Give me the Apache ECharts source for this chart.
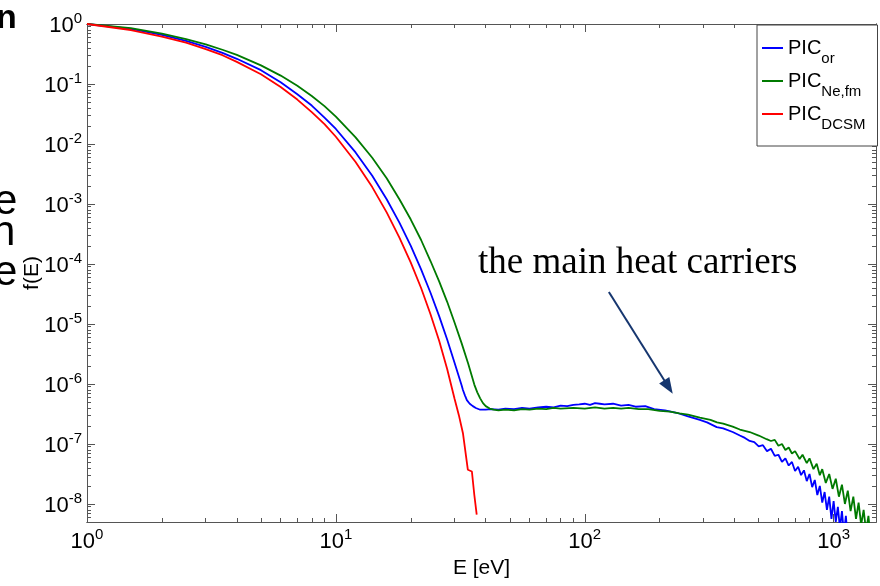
<!DOCTYPE html>
<html><head><meta charset="utf-8">
<script src="https://cdn.jsdelivr.net/npm/echarts@6/dist/echarts.min.js"></script>
<style>html,body{margin:0;padding:0;background:#fff}#c{width:880px;height:586px}</style>
</head><body><div id="c"></div>
<script>
// ---- data (E in eV, f(E)) ----
const seriesNames = ['PIC_or', 'PIC_Ne,fm', 'PIC_DCSM'];
const seriesColors = ['#0000ff', '#007a00', '#ff0000'];

const orE = [1,1.5,2,2.5,3,3.5,4,5,6,7,8,9,10,12,14,16,18,20,22,24,26,28,30,32,32.4,33,33.6,34.5,35.5,36.5,38,
  40,42,45,48,52,56,60,65,70,75,80,85,90,95,100,105,110,115,120,130,140,150,160,175,190,210,234,260,290,310,339,360,393,420,440,460,
  480,500,520,540,560,580,600,620,640,660,680,700,720,740,760,780,800,820,840,860,880,900,920,940,960,980,1000,1020,1040,1060,1080,1100,1120,1140];
const orF = [1,0.832,0.661,0.525,0.417,0.331,0.263,0.170,0.107,0.0676,0.0437,0.0275,0.0178,7.24e-3,2.95e-3,1.20e-3,4.90e-4,2.00e-4,8.13e-5,3.31e-5,1.35e-5,5.50e-6,2.24e-6,9.55e-7,7.94e-7,6.46e-7,5.37e-7,4.68e-7,4.27e-7,3.98e-7,3.72e-7,
  3.72e-7,3.80e-7,3.72e-7,3.89e-7,3.80e-7,3.98e-7,3.89e-7,4.07e-7,4.17e-7,4.07e-7,4.37e-7,4.27e-7,4.47e-7,4.57e-7,4.68e-7,4.47e-7,4.79e-7,4.68e-7,4.57e-7,4.68e-7,4.37e-7,4.47e-7,4.17e-7,4.27e-7,3.80e-7,3.63e-7,3.31e-7,2.88e-7,2.51e-7,2.29e-7,1.91e-7,1.82e-7,1.58e-7,1.38e-7,1.26e-7,1.12e-7,
  1.07e-7,9.12e-8,9.55e-8,7.59e-8,8.32e-8,6.31e-8,6.61e-8,5.01e-8,5.75e-8,4.37e-8,5.01e-8,3.55e-8,4.17e-8,3.02e-8,3.63e-8,2.40e-8,3.16e-8,1.91e-8,2.51e-8,1.41e-8,2.00e-8,1.05e-8,1.58e-8,7.94e-9,1.32e-8,5.62e-9,1.12e-8,5.01e-9,8.91e-9,3.98e-9,7.59e-9,3.16e-9,6.31e-9,2.51e-9];

const neE = [1,1.5,2,2.5,3,3.5,4,5,6,7,8,9,10,12,14,16,18,20,22,24,26,28,30,32,34,36,37,38,39,40,41.5,43,45,
  48,52,56,60,65,70,75,80,90,100,110,120,130,140,150,165,180,200,220,240,260,290,320,340,360,393,420,460,500,538,
  560,580,600,620,640,660,680,700,730,750,780,800,830,855,880,900,930,960,990,1020,1050,1080,1110,1140,1170,1200,1230,1260,1290,1320,1350,1380,1410];
const neF = [1,0.851,0.692,0.562,0.457,0.372,0.305,0.204,0.138,0.0933,0.0631,0.0427,0.0285,0.0129,5.89e-3,2.69e-3,1.20e-3,5.50e-4,2.51e-4,1.12e-4,5.13e-5,2.34e-5,1.05e-5,4.79e-6,2.19e-6,9.77e-7,7.24e-7,5.75e-7,4.79e-7,4.27e-7,3.89e-7,3.72e-7,3.63e-7,
  3.72e-7,3.63e-7,3.80e-7,3.72e-7,3.89e-7,3.80e-7,3.98e-7,3.89e-7,3.98e-7,3.89e-7,4.07e-7,3.89e-7,3.98e-7,3.89e-7,3.98e-7,3.80e-7,3.80e-7,3.55e-7,3.47e-7,3.24e-7,3.09e-7,2.75e-7,2.51e-7,2.29e-7,2.19e-7,1.95e-7,1.74e-7,1.58e-7,1.38e-7,1.20e-7,
  1.12e-7,1.17e-7,9.33e-8,1.00e-7,7.94e-8,8.71e-8,6.92e-8,7.59e-8,5.62e-8,6.61e-8,4.79e-8,5.75e-8,3.80e-8,4.68e-8,3.02e-8,3.80e-8,2.24e-8,3.16e-8,1.78e-8,2.63e-8,1.32e-8,2.09e-8,1.00e-8,1.66e-8,7.59e-9,1.32e-8,5.62e-9,1.05e-8,4.47e-9,7.94e-9,3.55e-9,6.31e-9,2.51e-9];

const dcE = [1,1.5,2,2.5,3,3.5,4,5,6,7,8,9,10,12,14,16,18,20,22,24,26,28,30,31.2,32.4,33.9,35.2,36,36.8];
const dcF = [1,0.794,0.617,0.490,0.380,0.302,0.234,0.145,0.0891,0.0550,0.0339,0.0214,0.0132,5.01e-3,1.91e-3,7.24e-4,2.75e-4,1.05e-4,3.98e-5,1.45e-5,5.25e-6,1.78e-6,5.62e-7,3.02e-7,1.51e-7,3.72e-8,3.47e-8,1.41e-8,6.61e-9];

// ---- axes ----
const xRange = [1, 1480];
const yRange = [5e-9, 1];
const xMajor = [1, 10, 100, 1000];
const yMajor = [1e-8, 1e-7, 1e-6, 1e-5, 1e-4, 1e-3, 1e-2, 1e-1, 1];
const minorMult = [2, 3, 4, 5, 6, 7, 8, 9];
const xMinor = [], yMinor = [];
[1, 10, 100, 1000].forEach(d => minorMult.forEach(k => { if (k * d <= xRange[1]) xMinor.push(k * d); }));
[1e-9, 1e-8, 1e-7, 1e-6, 1e-5, 1e-4, 1e-3, 1e-2, 1e-1].forEach(d => minorMult.forEach(k => { if (k * d >= yRange[0]) yMinor.push(k * d); }));

const axisCol = '#555';
const labelFont = 'Liberation Sans';
const expRich = {
  b: { fontFamily: labelFont, fontSize: 22, color: '#000', lineHeight: 26, verticalAlign: 'bottom' },
  e: { fontFamily: labelFont, fontSize: 15, color: '#000', lineHeight: 15, verticalAlign: 'top' }
};
function expFmt(v) {
  const p = Math.round(Math.log10(v));
  return '{b|10}{e|' + p + '}';
}

function mkAxis(gridIndex, position, range, ticks, len, labels, extra) {
  return Object.assign({
    type: 'log', logBase: 10, gridIndex, position, min: range[0], max: range[1],
    axisLine: { show: true, onZero: false, lineStyle: { color: axisCol, width: 1 } },
    axisTick: { show: true, inside: true, length: len, customValues: ticks, lineStyle: { color: axisCol, width: 1 } },
    axisLabel: labels ? { show: true, customValues: labels, formatter: expFmt, rich: expRich } : { show: false },
    splitLine: { show: false }, minorTick: { show: false }, silent: true
  }, extra || {});
}

const gridBox = { left: 87, right: 4, top: 24, bottom: 64, containLabel: false };

const chart = echarts.init(document.getElementById('c'), null, { renderer: 'canvas' });

const mkSeries = (i, E, F) => ({
  name: seriesNames[i], type: 'line', xAxisIndex: 0, yAxisIndex: 0,
  data: E.map((e, j) => [e, F[j]]),
  showSymbol: false, symbol: 'none', smooth: false, clip: true,
  lineStyle: { color: seriesColors[i], width: 1.8 }, itemStyle: { color: seriesColors[i] },
  animation: false, silent: true
});

const seriesList = [mkSeries(0, orE, orF), mkSeries(1, neE, neF), mkSeries(2, dcE, dcF)];
seriesList[0].markLine = {
  silent: true, symbol: ['none', 'triangle'], symbolSize: [12, 16],
  label: { show: false },
  lineStyle: { color: '#16366f', width: 2, type: 'solid' },
  data: [[{ coord: [125, 3.4e-5] }, { coord: [217, 8.9e-7] }]],
  animation: false
};

const subs = { 'PIC_or': 'or', 'PIC_Ne,fm': 'Ne,fm', 'PIC_DCSM': 'DCSM' };

chart.setOption({
  backgroundColor: '#fff',
  animation: false,
  grid: [gridBox, Object.assign({}, gridBox)],
  xAxis: [
    mkAxis(0, 'bottom', xRange, xMinor, 4, null),
    mkAxis(0, 'top', xRange, xMinor, 4, null),
    mkAxis(1, 'bottom', xRange, xMajor, 8, xMajor, {
      name: 'E [eV]', nameLocation: 'middle', nameGap: 36, nameMoveOverlap: false,
      nameTextStyle: { fontFamily: labelFont, fontSize: 21, color: '#000' },
      axisLabel: { show: true, customValues: xMajor, formatter: expFmt, rich: expRich, margin: 5 }
    }),
    mkAxis(1, 'top', xRange, xMajor, 8, null)
  ],
  yAxis: [
    mkAxis(0, 'left', yRange, yMinor, 4, null),
    mkAxis(0, 'right', yRange, yMinor, 4, null),
    mkAxis(1, 'left', yRange, yMajor, 8, yMajor, {
      name: 'f(E)', nameLocation: 'middle', nameGap: 44, nameRotate: 90, nameMoveOverlap: false,
      nameTextStyle: { fontFamily: labelFont, fontSize: 21, color: '#000' },
      axisLabel: { show: true, customValues: yMajor, formatter: expFmt, rich: expRich, margin: 5 }
    }),
    mkAxis(1, 'right', yRange, yMajor, 8, null)
  ],
  legend: {
    orient: 'vertical', left: 757, top: 25,
    padding: [13, 12, 14, 5], itemGap: 5, itemWidth: 21, itemHeight: 2, icon: 'rect',
    backgroundColor: '#fff', borderColor: '#444', borderWidth: 1, borderRadius: 0,
    data: seriesNames,
    formatter: n => '{a|PIC}{s|' + subs[n] + '}',
    textStyle: {
      rich: {
        a: { fontFamily: labelFont, fontSize: 20, color: '#000', lineHeight: 20, verticalAlign: 'top' },
        s: { fontFamily: labelFont, fontSize: 15, color: '#000', lineHeight: 13, padding: [13, 0, 0, 0], verticalAlign: 'top' }
      }
    }
  },
  graphic: [
    { type: 'text', left: 478, top: 245, silent: true,
      style: { text: 'the main heat carriers', font: '37px "Liberation Serif"', fill: '#000' } },
    { type: 'text', x: -4, y: 2, silent: true,
      style: { text: 'n', font: 'bold 34px "Liberation Sans"', fill: '#000' } },
    { type: 'text', x: -6, y: 181, silent: true,
      style: { text: 'e', font: '42px "Liberation Sans"', fill: '#000' } },
    { type: 'text', x: -8, y: 212, silent: true,
      style: { text: 'n', font: '42px "Liberation Sans"', fill: '#000' } },
    { type: 'text', x: -6, y: 252, silent: true,
      style: { text: 'e', font: '42px "Liberation Sans"', fill: '#000' } }
  ],
  series: seriesList
});
</script></body></html>
